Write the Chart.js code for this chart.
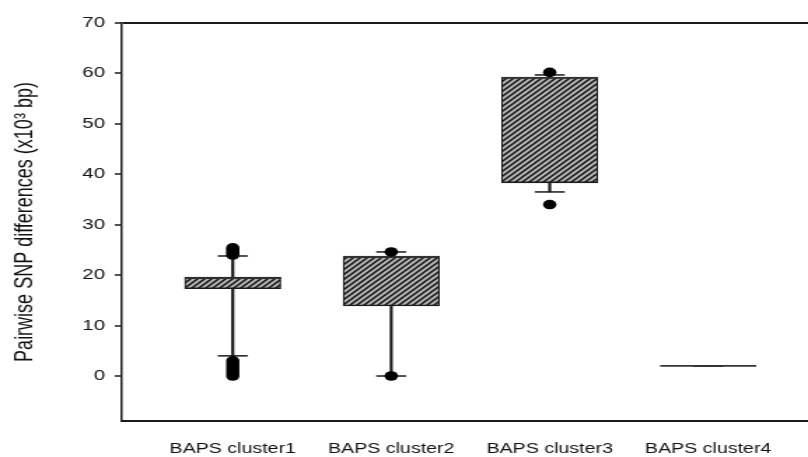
<!DOCTYPE html>
<html>
<head>
<meta charset="utf-8">
<script src="https://cdn.jsdelivr.net/npm/chart.js@4.4.1/dist/chart.umd.min.js"></script>
<style>
  html, body { margin: 0; padding: 0; background: #fff; }
</style>
</head>
<body>
<!-- the figure is stretched sideways, so draw narrow and widen with css -->
<canvas id="chart" width="577" height="457" style="display:block;width:808px;height:457px"></canvas>
<script>
// data
const categories = ['BAPS cluster1', 'BAPS cluster2', 'BAPS cluster3', 'BAPS cluster4'];
const q1 = [17.3, 13.9, 38.3, 2.0];
const q3 = [19.6, 23.8, 59.3, 2.0];
const medians = [19.4, 23.6, 59.1, 2.0];
const whiskerLow = [4.0, 0.0, 36.5, 2.0];
const whiskerHigh = [23.8, 24.6, 59.7, 2.0];
const outliers1 = [0, 0.6, 1.2, 1.8, 2.4, 3.0, 24.0, 24.5, 25.0, 25.4];
const outliers2 = [0, 24.6];
const outliers3 = [34.0, 60.2];
const outliers4 = [];
const yTicks = [0, 10, 20, 30, 40, 50, 60, 70];

const outliers = [outliers1, outliers2, outliers3, outliers4];

// diagonal hatch fill for the boxes
function makeHatch() {
  const n = 5;
  const c = document.createElement('canvas');
  c.width = n;
  c.height = n;
  const g = c.getContext('2d');
  g.fillStyle = '#b4b4b4';
  g.fillRect(0, 0, n, n);
  g.strokeStyle = '#111';
  g.lineWidth = 1.5;
  g.beginPath();
  g.moveTo(-1, n + 1); g.lineTo(n + 1, -1);
  g.moveTo(-1, 1); g.lineTo(1, -1);
  g.moveTo(n - 1, n + 1); g.lineTo(n + 1, n - 1);
  g.stroke();
  return g.createPattern(c, 'repeat');
}

const font = 'Liberation Sans';
const ink = '#1a1a1a';

const ctx = document.getElementById('chart').getContext('2d');

new Chart(ctx, {
  type: 'bar',
  data: {
    datasets: [
      {
        // whisker stems
        type: 'bar',
        data: categories.map((c, i) => ({ x: i + 1, y: [whiskerLow[i], whiskerHigh[i]] })),
        backgroundColor: ink,
        barThickness: 1.5,
        grouped: false,
        order: 5
      },
      {
        // whisker caps
        type: 'scatter',
        data: categories.flatMap((c, i) => [
          { x: i + 1, y: whiskerLow[i] },
          { x: i + 1, y: whiskerHigh[i] }
        ]),
        pointStyle: 'line',
        pointRadius: 10.7,
        pointBorderWidth: 1.5,
        pointBorderColor: ink,
        order: 4
      },
      {
        // boxes
        type: 'bar',
        data: categories.map((c, i) => ({ x: i + 1, y: [q1[i], q3[i]] })),
        backgroundColor: makeHatch(),
        borderColor: ink,
        borderWidth: { left: 1.2, right: 1.2, top: 1.6, bottom: 1.6 },
        borderSkipped: false,
        barThickness: 68.6,
        grouped: false,
        order: 3
      },
      {
        // medians
        type: 'scatter',
        data: categories.map((c, i) => ({ x: i + 1, y: medians[i] })),
        pointStyle: 'line',
        pointRadius: 34.3,
        pointBorderWidth: 1.8,
        pointBorderColor: '#333',
        order: 2
      },
      {
        // outliers
        type: 'scatter',
        data: outliers.flatMap((arr, i) => arr.map(v => ({ x: i + 1, y: v }))),
        pointRadius: 4.8,
        pointBackgroundColor: '#000',
        pointBorderWidth: 0,
        order: 1
      }
    ]
  },
  options: {
    responsive: false,
    animation: false,
    events: [],
    layout: { autoPadding: false, padding: { top: 23, right: 0, bottom: 0, left: 0 } },
    plugins: {
      legend: { display: false },
      tooltip: { enabled: false }
    },
    scales: {
      x: {
        type: 'linear',
        min: 0.3,
        max: 4.63,
        offset: false,
        afterBuildTicks: s => { s.ticks = categories.map((c, i) => ({ value: i + 1 })); },
        afterFit: s => {
          s.height = 36;
          s.paddingLeft = 0;
          s.paddingRight = 0;
        },
        grid: { display: false, drawTicks: false },
        border: { display: true, color: ink, width: 2 },
        ticks: {
          callback: v => categories[v - 1],
          color: '#111',
          font: { family: font, size: 14 },
          padding: 20,
          maxRotation: 0,
          autoSkip: false
        }
      },
      y: {
        min: -8.92,
        max: 70,
        afterBuildTicks: s => { s.ticks = yTicks.map(v => ({ value: v })); },
        afterFit: s => {
          s.width = 87;
          s.paddingTop = 0;
          s.paddingBottom = 0;
        },
        grid: {
          color: c => (c.tick && c.tick.value === 70 ? ink : 'rgba(0,0,0,0)'),
          lineWidth: 2,
          drawTicks: true,
          tickLength: 5,
          tickColor: ink,
          tickWidth: 1.5
        },
        border: { display: true, color: ink, width: 1.5 },
        ticks: {
          color: '#111',
          font: { family: font, size: 14.5 },
          padding: 7
        },
        title: {
          display: true,
          text: 'Pairwise SNP differences (x10³ bp)',
          color: '#111',
          font: { family: font, size: 18 },
          padding: { top: 7, bottom: 0 }
        }
      }
    }
  }
});
</script>
</body>
</html>
